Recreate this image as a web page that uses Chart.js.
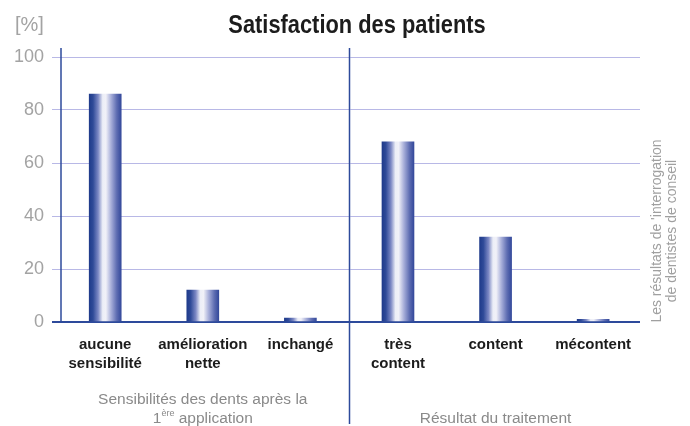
<!DOCTYPE html>
<html><head><meta charset="utf-8">
<script src="https://cdn.jsdelivr.net/npm/chart.js@4.4.1/dist/chart.umd.min.js"></script>
<style>html,body{margin:0;padding:0;background:#fff;} #wrap{width:690px;height:426px;position:relative;}</style>
</head><body><div id="wrap"><canvas id="c" width="690" height="426"></canvas></div>
<script>
// ---- data ----
const chartTitle = "Satisfaction des patients";
const unitLabel = "[%]";
const categories = [["aucune","sensibilité"],["amélioration","nette"],["inchangé"],["très","content"],["content"],["mécontent"]];
const values = [86, 12, 1.5, 68, 32, 1];
const yTicks = [0, 20, 40, 60, 80, 100];
const groupSpans = [[0, 2], [3, 5]];
const groupLine1 = ["Sensibilités des dents après la", "Résultat du traitement"];
const groupLine2Base = ["1", ""];
const groupLine2Sup = ["ère", ""];
const groupLine2Rest = [" application", ""];
const sideNote = ["Les résultats de 'interrogation", "de dentistes de conseil"];

const NAVY = '#2d4a9b';
const SANS = '"Liberation Sans", Arial, sans-serif';
const BAR_W = 32;

function barGradient(c) {
  const chart = c.chart, xs = chart.scales.x;
  if (!chart.chartArea || !xs || c.raw == null) return NAVY;
  const cx = xs.getPixelForValue(c.raw.x);
  const l = cx - BAR_W / 2, r = cx + BAR_W / 2;
  const g = chart.ctx.createLinearGradient(l, 0, r, 0);
  g.addColorStop(0, '#1f3b8b');
  g.addColorStop(0.12, '#2f4a98');
  g.addColorStop(0.28, '#7c88c4');
  g.addColorStop(0.42, '#eceef7');
  g.addColorStop(0.52, '#f1f1f8');
  g.addColorStop(0.68, '#a9b0da');
  g.addColorStop(0.86, '#5e6db2');
  g.addColorStop(1, '#34499b');
  return g;
}

const decor = {
  id: 'decor',
  afterDraw(chart) {
    const ctx = chart.ctx, a = chart.chartArea, xs = chart.scales.x;
    ctx.save();
    // title (horizontally condensed)
    ctx.save();
    ctx.fillStyle = '#1c1c1c';
    ctx.font = 'bold 26px ' + SANS;
    ctx.textAlign = 'center';
    ctx.textBaseline = 'alphabetic';
    ctx.translate(357, 33);
    ctx.scale(0.84, 1);
    ctx.fillText(chartTitle, 0, 0);
    ctx.restore();
    // unit
    ctx.fillStyle = '#a3a3a3';
    ctx.font = '20px ' + SANS;
    ctx.textAlign = 'left';
    ctx.textBaseline = 'alphabetic';
    ctx.fillText(unitLabel, 15, 31);
    // left axis line
    ctx.strokeStyle = NAVY;
    ctx.lineWidth = 1.5;
    ctx.beginPath();
    ctx.moveTo(a.left, a.top - 9);
    ctx.lineTo(a.left, a.bottom);
    ctx.stroke();
    // divider between groups
    const dx = Math.round(xs.getPixelForValue((groupSpans[0][1] + groupSpans[1][0]) / 2)) + 0.5;
    ctx.beginPath();
    ctx.moveTo(dx, a.top - 9);
    ctx.lineTo(dx, 424);
    ctx.stroke();
    // group labels
    ctx.fillStyle = '#8a8a8a';
    ctx.textBaseline = 'middle';
    groupSpans.forEach((sp, i) => {
      const cx = xs.getPixelForValue((sp[0] + sp[1]) / 2);
      const hasTwo = groupLine2Base[i] || groupLine2Rest[i];
      ctx.font = '15.5px ' + SANS;
      ctx.textAlign = 'center';
      if (hasTwo) {
        ctx.fillText(groupLine1[i], cx, 400);
        const wb = ctx.measureText(groupLine2Base[i]).width;
        const wr = ctx.measureText(groupLine2Rest[i]).width;
        ctx.font = '9px ' + SANS;
        const ws = ctx.measureText(groupLine2Sup[i]).width;
        let x0 = cx - (wb + ws + wr) / 2;
        ctx.textAlign = 'left';
        ctx.font = '15.5px ' + SANS;
        ctx.fillText(groupLine2Base[i], x0, 419);
        ctx.font = '9px ' + SANS;
        ctx.fillText(groupLine2Sup[i], x0 + wb, 414);
        ctx.font = '15.5px ' + SANS;
        ctx.fillText(groupLine2Rest[i], x0 + wb + ws, 419);
      } else {
        ctx.fillText(groupLine1[i], cx, 419);
      }
    });
    // side note rotated
    ctx.fillStyle = '#a0a0a0';
    ctx.font = '14px ' + SANS;
    ctx.textAlign = 'center';
    ctx.textBaseline = 'middle';
    ctx.translate(657, 231);
    ctx.rotate(-Math.PI / 2);
    sideNote.forEach((t, i) => ctx.fillText(t, 0, i * 15));
    ctx.restore();
  }
};

new Chart(document.getElementById('c'), {
  type: 'bar',
  data: {
    datasets: [{
      data: values.map((v, i) => ({ x: i, y: v })),
      backgroundColor: barGradient,
      borderWidth: 0,
      barThickness: BAR_W
    }]
  },
  options: {
    responsive: false,
    devicePixelRatio: 1,
    animation: false,
    layout: { padding: { left: 0, right: 50, top: 57, bottom: 0 } },
    plugins: { legend: { display: false }, tooltip: { enabled: false }, title: { display: false } },
    scales: {
      x: {
        type: 'linear',
        offset: false,
        min: -0.453,
        max: 5.48,
        afterBuildTicks: s => { s.ticks = categories.map((_, i) => ({ value: i })); },
        afterFit: s => { s.height = 104; },
        grid: { display: false, drawTicks: false, offset: false },
        border: { display: false },
        ticks: {
          autoSkip: false, maxRotation: 0, padding: 13,
          color: '#1c1c1c',
          font: { family: SANS, size: 15, weight: 'bold', lineHeight: 1.27 },
          callback: v => categories[v]
        }
      },
      y: {
        min: 0, max: 100,
        afterBuildTicks: s => { s.ticks = yTicks.map(v => ({ value: v })); },
        afterFit: s => { s.width = 61; },
        border: { display: false },
        grid: {
          color: c => c.tick && c.tick.value === 0 ? NAVY : '#b8b8e6',
          lineWidth: c => c.tick && c.tick.value === 0 ? 2 : 1,
          tickLength: 9
        },
        ticks: { padding: 8, color: '#a3a3a3', font: { family: SANS, size: 18 } }
      }
    }
  },
  plugins: [decor]
});
</script></body></html>
